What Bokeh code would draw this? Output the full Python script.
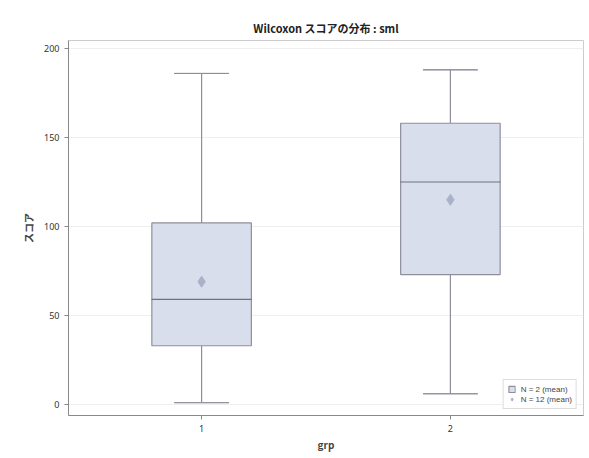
from bokeh.plotting import figure
from bokeh.embed import file_html
from bokeh.resources import INLINE
from bokeh.models import ColumnDataSource, FactorRange, Range1d, Legend, LegendItem, FixedTicker
from bokeh.core.properties import value

groups = ["1", "2"]
q1 = [33, 73]
median = [59, 125]
q3 = [102, 158]
lower = [1, 6]
upper = [186, 188]
mean = [69, 115]
legend_labels = ["N = 2 (mean)", "N = 12 (mean)"]

src = ColumnDataSource(dict(g=groups, q1=q1, med=median, q3=q3, lo=lower, hi=upper, mean=mean))

p = figure(width=586, height=455, x_range=FactorRange(*groups, range_padding=0.035),
           y_range=Range1d(-6.2, 204.5), output_backend="svg", toolbar_location=None,
           min_border_left=68, min_border_right=3, min_border_top=40, min_border_bottom=40)
p.title.text = "Wilcoxon スコアの分布 : sml"
p.title.align = "center"
p.title.text_font = "Noto Sans CJK JP"
p.title.text_font_size = "11px"
p.title.text_font_style = "bold"
p.title.text_color = "#222222"

boxcol = "#d8deeb"
linecol = "#8f8f9c"

# whiskers
p.segment("g", "q3", "g", "hi", source=src, line_color=linecol, line_width=1.2)
p.segment("g", "lo", "g", "q1", source=src, line_color=linecol, line_width=1.2)
p.rect("g", "hi", 0.22, 0.01, source=src, line_color=linecol, fill_color=linecol, line_width=1)
p.rect("g", "lo", 0.22, 0.01, source=src, line_color=linecol, fill_color=linecol, line_width=1)
box = p.vbar("g", 0.4, "q3", "q1", source=src, fill_color=boxcol, line_color=linecol, line_width=1.2)
p.rect("g", "med", 0.4, 0.01, source=src, line_color="#6f7380", fill_color="#6f7380", line_width=1.2)
mk = p.scatter("g", "mean", source=src, marker="diamond", size=11, fill_color="#a9b3c8",
               line_color="#a9b3c8")

p.yaxis.ticker = FixedTicker(ticks=[0, 50, 100, 150, 200])
p.yaxis.axis_label = "スコア"
p.xaxis.axis_label = "grp"
for ax in (p.xaxis, p.yaxis):
    ax.axis_label_text_font = "Noto Sans CJK JP"
    ax.axis_label_text_font_size = "10px"
    ax.axis_label_text_font_style = "bold"
    ax.major_label_text_font = "Noto Sans"
    ax.major_label_text_font_size = "9px"
    ax.major_label_text_color = "#333333"
    ax.axis_line_color = "#888888"
    ax.major_tick_line_color = "#888888"
    ax.minor_tick_line_color = None
    ax.major_tick_out = 4
    ax.major_tick_in = 0
p.xaxis.axis_label_standoff = 2

p.xgrid.grid_line_color = None
p.ygrid.grid_line_color = "#eeeeee"
p.outline_line_color = "#cccccc"
p.border_fill_color = "white"

legend = Legend(items=[LegendItem(label=legend_labels[0], renderers=[box]),
                       LegendItem(label=legend_labels[1], renderers=[mk])],
                location="bottom_right", label_text_font_size="8px", glyph_width=8,
                glyph_height=8, label_height=10, spacing=0, padding=4, margin=6,
                border_line_color="#bbbbbb", background_fill_alpha=1.0)
p.add_layout(legend)

open("out.html", "w").write(file_html(p, INLINE))
